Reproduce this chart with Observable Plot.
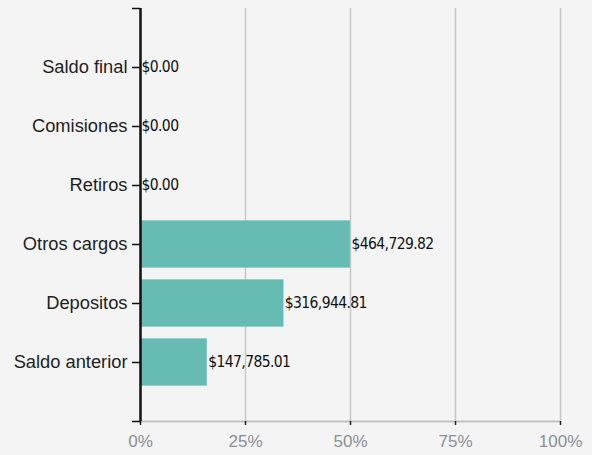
<!DOCTYPE html>
<html>
<head>
<meta charset="utf-8">
<script src="https://cdn.jsdelivr.net/npm/d3@7"></script>
<script src="https://cdn.jsdelivr.net/npm/@observablehq/plot@0.6"></script>
<style>
  html, body { margin: 0; padding: 0; background: #f4f4f4; }
  #chart svg { display: block; }
</style>
</head>
<body>
<div id="chart"></div>
<script>
const categories = ["Saldo anterior", "Depositos", "Otros cargos", "Retiros", "Comisiones", "Saldo final"];
const values = [147785.01, 316944.81, 464729.82, 0, 0, 0];
const xTicks = [0, 0.25, 0.5, 0.75, 1];
const xTickLabels = ["0%", "25%", "50%", "75%", "100%"];

const total = d3.sum(values);
const rows = categories.map((c, i) => ({
  name: c,
  pos: i + 1,
  value: values[i],
  share: values[i] / total
}));
const money = d3.format(",.2f");

const chart = Plot.plot({
  width: 592,
  height: 455,
  marginLeft: 140,
  marginRight: 32,
  marginTop: 8,
  marginBottom: 34,
  style: { background: "#f4f4f4", fontFamily: "Liberation Sans, Arial, sans-serif", overflow: "visible" },
  x: { domain: [0, 1], axis: null },
  y: { domain: [0, categories.length + 1], axis: null },
  marks: [
    Plot.gridX(xTicks.slice(1), { stroke: "#c6c6c6", strokeOpacity: 1, strokeWidth: 1.5 }),
    Plot.rect(rows.filter(d => d.value > 0), {
      x1: 0,
      x2: "share",
      y1: d => d.pos - 0.4,
      y2: d => d.pos + 0.4,
      fill: "#66bbb3",
      stroke: "#8fd0c8",
      strokeWidth: 0.5
    }),
    Plot.text(rows, {
      x: "share",
      y: "pos",
      text: d => "$" + money(d.value),
      textAnchor: "start",
      dx: 1,
      fontFamily: "Liberation Sans Narrow, DejaVu Sans Condensed, sans-serif",
      fontSize: 15.5,
      fill: "#111"
    }),
    Plot.ruleY([0], { stroke: "#c2c2c2", strokeWidth: 2 }),
    Plot.axisX({
      ticks: xTicks,
      anchor: "bottom",
      tickSize: 4,
      tickPadding: 9,
      tickFormat: d => xTickLabels[xTicks.indexOf(d)],
      stroke: "#222",
      strokeWidth: 1.5,
      fill: "#8a8f98",
      fontSize: 17,
      label: null
    }),
    Plot.axisY({
      ticks: d3.range(0, categories.length + 2),
      anchor: "left",
      tickSize: 8,
      tickPadding: 5,
      tickFormat: d => categories[d - 1] ?? "",
      stroke: "#111",
      strokeWidth: 1.5,
      fill: "#1e1e1e",
      fontSize: 18.3,
      label: null
    }),
    Plot.ruleX([0], { stroke: "#111", strokeWidth: 2.5 })
  ]
});
// tighten the value labels to match the condensed look of the original
d3.select(chart).selectAll("text")
  .filter(function () { return this.textContent.startsWith("$"); })
  .attr("letter-spacing", "-0.6px");
document.getElementById("chart").appendChild(chart);
</script>
</body>
</html>
